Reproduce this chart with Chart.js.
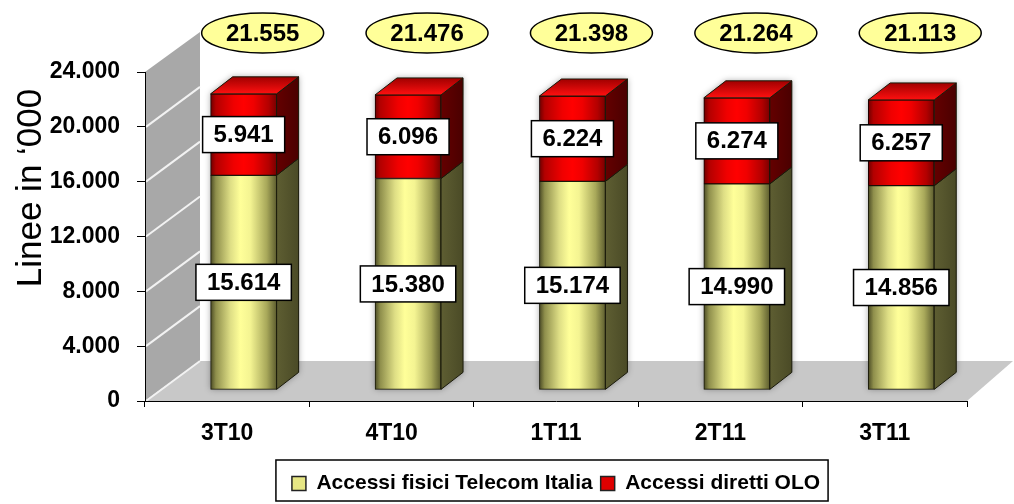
<!DOCTYPE html>
<html>
<head>
<meta charset="utf-8">
<script src="https://cdn.jsdelivr.net/npm/chart.js@4.4.1/dist/chart.umd.min.js"></script>
<style>
    body { margin: 0; background: #fff; }
    #wrap { width: 1014px; height: 504px; position: relative; }
</style>
</head>
<body>
<div id="wrap"><canvas id="myChart"></canvas></div>
<script>
//data
const categories = ['3T10', '4T10', '1T11', '2T11', '3T11'];
const accessiTelecom = [15614, 15380, 15174, 14990, 14856];
const accessiOlo = [5941, 6096, 6224, 6274, 6257];
const seriesLabels = ['Accessi fisici Telecom Italia', 'Accessi diretti OLO'];
const yTickStep = 4000;
const yMax = 24000;

//look
const FONT = '"Liberation Sans", Arial, sans-serif';
const BAR_W = 66;
const BAR_DX = 22, BAR_DY = -17;
const WALL_DX = 55, WALL_DY = -40;

const yellowStops = [[0, '#4b4b25'], [0.08, '#8f8f4c'], [0.3, '#dede85'], [0.45, '#ffff99'], [0.6, '#f4f492'], [0.85, '#a8a85a'], [1, '#5c5c2e']];
const redStops = [[0, '#6e0000'], [0.08, '#b30000'], [0.35, '#f00000'], [0.5, '#ff0000'], [0.65, '#f00000'], [0.88, '#b30000'], [1, '#780000']];

// 15614 -> "15.614"
const fmt = v => String(v).replace(/\B(?=(\d{3})+(?!\d))/g, '.');

function frontFill(stops, solid) {
    return ctx => {
        const chart = ctx.chart;
        const sx = chart.scales.xBar;
        if (ctx.type !== 'data' || !sx || !chart.chartArea) return solid;
        const cx = sx.getPixelForValue(ctx.dataIndex);
        const g = chart.ctx.createLinearGradient(cx - BAR_W / 2, 0, cx + BAR_W / 2, 0);
        stops.forEach(([o, c]) => g.addColorStop(o, c));
        return g;
    };
}

function poly(ctx, pts) {
    ctx.beginPath();
    ctx.moveTo(pts[0][0], pts[0][1]);
    for (let i = 1; i < pts.length; i++) ctx.lineTo(pts[i][0], pts[i][1]);
    ctx.closePath();
}

// gray wall + floor, side/top faces of bars, value boxes, total ellipses
const depth3d = {
    id: 'depth3d',
    beforeDraw(chart) {
        const { ctx, chartArea: a, scales } = chart;
        ctx.save();
        ctx.fillStyle = '#a8a8a8';
        poly(ctx, [[a.left, a.top], [a.left + WALL_DX, a.top + WALL_DY], [a.left + WALL_DX, a.bottom + WALL_DY], [a.left, a.bottom]]);
        ctx.fill();
        ctx.fillStyle = '#c8c8c8';
        poly(ctx, [[a.left, a.bottom], [a.left + WALL_DX, a.bottom + WALL_DY], [a.right + 46, a.bottom + WALL_DY], [a.right, a.bottom]]);
        ctx.fill();
        ctx.strokeStyle = '#f2f2f2';
        ctx.lineWidth = 2;
        scales.y.ticks.forEach(t => {
            if (t.value >= scales.y.max) return;
            const py = scales.y.getPixelForValue(t.value);
            ctx.beginPath();
            ctx.moveTo(a.left + 1, py);
            ctx.lineTo(a.left + WALL_DX, py + WALL_DY);
            ctx.stroke();
        });
        ctx.restore();
    },
    beforeDatasetsDraw(chart) {
        // soft halo behind the bars
        const { ctx } = chart;
        ctx.save();
        ctx.shadowColor = 'rgba(0,0,0,0.35)';
        ctx.shadowBlur = 6;
        ctx.fillStyle = '#888';
        chart.getDatasetMeta(0).data.forEach((el, i) => {
            const topEl = chart.getDatasetMeta(1).data[i];
            const l = el.x - el.width / 2, r = el.x + el.width / 2;
            poly(ctx, [[l, el.base], [l, topEl.y], [l + BAR_DX, topEl.y + BAR_DY], [r + BAR_DX, topEl.y + BAR_DY], [r + BAR_DX, el.base + BAR_DY], [r, el.base]]);
            ctx.fill();
        });
        ctx.restore();
    },
    afterDatasetsDraw(chart) {
        const { ctx } = chart;
        const last = chart.data.datasets.length - 1;
        ctx.save();
        ctx.lineWidth = 1;
        ctx.strokeStyle = '#1a1a0a';
        chart.data.datasets.forEach((ds, di) => {
            chart.getDatasetMeta(di).data.forEach(el => {
                const r = el.x + el.width / 2;
                const l = el.x - el.width / 2;
                const side = ctx.createLinearGradient(r, 0, r + BAR_DX, 0);
                if (di === 0) { side.addColorStop(0, '#5e5e32'); side.addColorStop(1, '#4a4a26'); }
                else { side.addColorStop(0, '#640000'); side.addColorStop(1, '#4a0000'); }
                ctx.fillStyle = side;
                poly(ctx, [[r, el.y], [r + BAR_DX, el.y + BAR_DY], [r + BAR_DX, el.base + BAR_DY], [r, el.base]]);
                ctx.fill();
                ctx.stroke();
                if (di === last) {
                    const top = ctx.createLinearGradient(0, el.y + BAR_DY, 0, el.y);
                    top.addColorStop(0, '#a00000');
                    top.addColorStop(1, '#ff1010');
                    ctx.fillStyle = top;
                    poly(ctx, [[l, el.y], [l + BAR_DX, el.y + BAR_DY], [r + BAR_DX, el.y + BAR_DY], [r, el.y]]);
                    ctx.fill();
                    ctx.stroke();
                }
            });
        });

        // value boxes
        ctx.font = 'bold 24px ' + FONT;
        ctx.textAlign = 'center';
        ctx.textBaseline = 'middle';
        chart.data.datasets.forEach((ds, di) => {
            chart.getDatasetMeta(di).data.forEach((el, i) => {
                const txt = fmt(ds.data[i].y);
                const w = ctx.measureText(txt).width + 22;
                const cy = (el.y + el.base) / 2;
                ctx.fillStyle = '#fff';
                ctx.fillRect(el.x - w / 2, cy - 18, w, 36);
                ctx.lineWidth = 1.5;
                ctx.strokeStyle = '#000';
                ctx.strokeRect(el.x - w / 2, cy - 18, w, 36);
                ctx.fillStyle = '#000';
                ctx.fillText(txt, el.x, cy + 1);
            });
        });

        // totals
        chart.getDatasetMeta(last).data.forEach((el, i) => {
            const total = accessiTelecom[i] + accessiOlo[i];
            const cx = el.x + 19, cy = 33;
            ctx.beginPath();
            ctx.ellipse(cx, cy, 61, 20, 0, 0, Math.PI * 2);
            ctx.fillStyle = '#ffff99';
            ctx.fill();
            ctx.lineWidth = 1.5;
            ctx.strokeStyle = '#000';
            ctx.stroke();
            ctx.fillStyle = '#000';
            ctx.fillText(fmt(total), cx, cy + 1);
        });
        ctx.restore();
    },
    afterDraw(chart) {
        const { ctx } = chart;
        ctx.save();
        // y title
        ctx.translate(41, 188);
        ctx.rotate(-Math.PI / 2);
        ctx.font = '35px ' + FONT;
        ctx.textAlign = 'center';
        ctx.textBaseline = 'alphabetic';
        ctx.fillStyle = '#000';
        ctx.fillText('Linee in \u2018000', 0, 0);
        ctx.restore();

        // legend frame
        const lg = chart.legend;
        const hb = lg.legendHitBoxes;
        if (hb && hb.length) {
            const lastBox = hb[hb.length - 1];
            const left = hb[0].left - 16;
            const right = lastBox.left + lastBox.width + 8;
            ctx.save();
            ctx.strokeStyle = '#000';
            ctx.lineWidth = 1.5;
            ctx.strokeRect(left, lg.top - 5, right - left, lg.bottom - lg.top + 2);
            ctx.restore();
        }
    }
};

const legendFills = ['#e6e684', '#e00000'];

new Chart(document.getElementById('myChart'), {
    type: 'bar',
    data: {
        labels: categories,
        datasets: [
            {
                label: seriesLabels[0],
                data: accessiTelecom.map((v, i) => ({ x: i, y: v })),
                backgroundColor: frontFill(yellowStops, '#ffff99'),
                borderColor: '#1a1a0a',
                borderWidth: 1,
                borderSkipped: false,
                barThickness: BAR_W,
                xAxisID: 'xBar',
                yAxisID: 'yBar'
            },
            {
                label: seriesLabels[1],
                data: accessiOlo.map((v, i) => ({ x: i, y: v })),
                backgroundColor: frontFill(redStops, '#ff0000'),
                borderColor: '#1a0000',
                borderWidth: 1,
                borderSkipped: false,
                barThickness: BAR_W,
                xAxisID: 'xBar',
                yAxisID: 'yBar'
            }
        ]
    },
    options: {
        responsive: true,
        maintainAspectRatio: false,
        animation: false,
        layout: { padding: { top: 72, right: 47, bottom: 0, left: 0 } },
        scales: {
            x: {
                type: 'category',
                offset: true,
                grid: { offset: true, drawOnChartArea: false, tickLength: 6, color: '#000' },
                border: { color: '#000', width: 1 },
                ticks: { color: '#000', padding: 13, font: { family: FONT, size: 23, weight: 'bold' } },
                afterFit: s => { s.height = 64; }
            },
            y: {
                min: 0,
                max: yMax,
                grid: { drawOnChartArea: false, tickLength: 8, color: '#000' },
                border: { color: '#000', width: 1 },
                ticks: {
                    stepSize: yTickStep,
                    color: '#000',
                    padding: 17,
                    font: { family: FONT, size: 23, weight: 'bold' },
                    callback: v => fmt(v)
                },
                afterFit: s => { s.width = 145; }
            },
            xBar: { type: 'linear', display: false, offset: false, stacked: true, min: -0.6, max: 4.4 },
            yBar: { type: 'linear', display: false, stacked: true, min: -850, max: yMax - 850 }
        },
        plugins: {
            tooltip: { enabled: false },
            legend: {
                position: 'bottom',
                fullSize: false,
                labels: {
                    padding: 8,
                    boxWidth: 14,
                    boxHeight: 14,
                    color: '#000',
                    font: { family: FONT, size: 21, weight: 'bold' },
                    generateLabels: chart => chart.data.datasets.map((ds, i) => ({
                        text: ds.label,
                        fillStyle: legendFills[i],
                        strokeStyle: '#222',
                        lineWidth: 1.5,
                        fontColor: '#000',
                        hidden: false,
                        datasetIndex: i
                    }))
                }
            }
        }
    },
    plugins: [depth3d]
});
</script>
</body>
</html>
